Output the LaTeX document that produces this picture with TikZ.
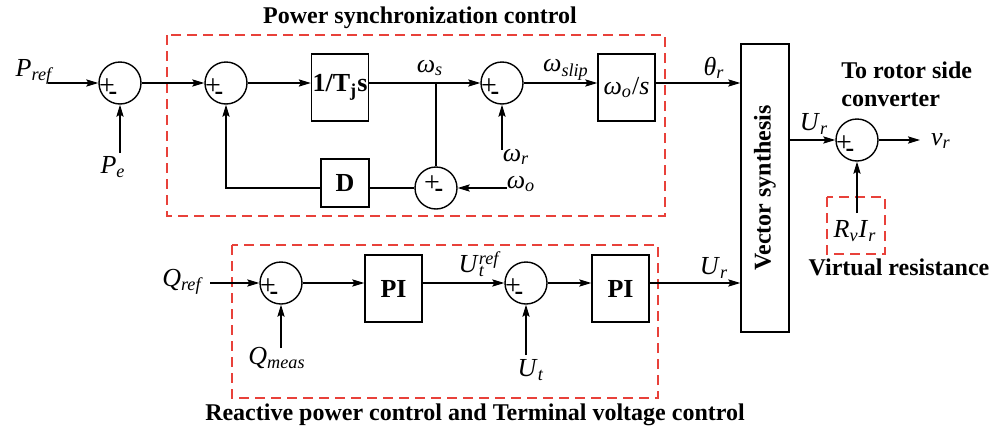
\documentclass[tikz,border=0pt]{standalone}
\usepackage{fontspec}
\setmainfont{Liberation Serif}
\usetikzlibrary{arrows.meta,positioning,calc}
\definecolor{dashred}{HTML}{E8413A}

\newcommand{\vsub}[2]{\textit{#1}\textsubscript{\textit{#2}}}

\begin{document}
\begin{tikzpicture}[
  x=0.5pt, y=-0.5pt, line width=0.7pt,
  font=\fontsize{13}{15}\selectfont,
  sum/.style={draw, circle, minimum size=21pt, inner sep=0pt},
  pm/.style={label={[xshift=-6.5pt, yshift=-2pt, inner sep=0pt, font=\fontsize{14}{14}\selectfont]center:+},
    label={[xshift=-3.5pt, yshift=-6.5pt, inner sep=0pt, font=\bfseries\fontsize{13}{13}\selectfont]center:-}},
  block/.style={draw, minimum width=28.5pt, minimum height=33.5pt, inner sep=0pt,
    font=\bfseries\fontsize{13}{15}\selectfont},
  arrow/.style={-{Stealth[length=6pt, width=3.6pt, inset=1pt]}},
  dashbox/.style={draw=dashred, dash pattern=on 5pt off 3pt, line width=0.8pt},
  ttl/.style={font=\bfseries\fontsize{12}{14}\selectfont, align=left}
]
  \useasboundingbox (0,0) rectangle (1002,434);

  % power synchronization loop
  \draw[dashbox] (167,35) rectangle (665,216);
  \node[ttl] (tpsc) at (420,18) {Power synchronization control};

  \coordinate (pin) at (48,83);
  \node (pref) at (35,72) {\vsub{P}{ref}};
  \node[sum, pm] (s1) at (120,83) {};
  \coordinate (pein) at (120,153);
  \node (pe) at (113,167) {\vsub{P}{e}};

  \node[sum, pm] (s2) at (226,83) {};
  \node[block] (tj) at (340,87.5) {1/T\textsubscript{j}s};
  \coordinate (br) at (436,83);
  \node (ws) at (430,68) {\vsub{ω}{s}};

  \node[sum, pm] (s3) at (502,83) {};
  \coordinate (wrin) at (502,150);
  \node (wr) at (516,157) {\vsub{ω}{r}};
  \node (wslip) at (566,70) {\vsub{ω}{slip}};
  \node[block, font=\fontsize{13}{15}\selectfont] (wo) at (626.5,87.5) {\vsub{ω}{o}/\textit{s}};

  \node[block, minimum width=24pt, minimum height=24pt] (d) at (345,183) {D};
  \node[sum, label={[xshift=-2pt, yshift=2pt, inner sep=0pt, font=\fontsize{14}{14}\selectfont]center:+},
    label={[xshift=1.5pt, yshift=-2.5pt, inner sep=0pt, font=\bfseries\fontsize{13}{13}\selectfont]center:-}]
    (s4) at (436,188) {};
  \coordinate (woin) at (507,188);
  \node (wol) at (521,184) {\vsub{ω}{o}};

  % vector synthesis
  \node[draw, minimum width=24pt, minimum height=144pt, inner sep=0pt] (vs) at (765,188) {};
  \node[rotate=90, font=\bfseries\fontsize{12}{14}\selectfont] (vst) at (vs) {Vector synthesis};
  \node (thr) at (714,68) {\vsub{θ}{r}};

  % reactive power and terminal voltage loop
  \draw[dashbox] (232,245) rectangle (658,398);
  \node[ttl] (trv) at (475,415) {Reactive power control and Terminal voltage control};

  \coordinate (qin) at (210,283);
  \node (qref) at (183,282) {\vsub{Q}{ref}};
  \node[sum, pm] (s5) at (281,283) {};
  \coordinate (qmin) at (281,348);
  \node (qmeas) at (277,358) {\vsub{Q}{meas}};
  \node[block] (pi1) at (393.5,288.5) {PI};
  \node (utref) at (472,264) {\textit{U}\rlap{\textsuperscript{\textit{ref}}}\textsubscript{\textit{t}}};
  \node[sum, pm] (s6) at (526,283) {};
  \coordinate (utin) at (526,355);
  \node (ut) at (531,370) {\vsub{U}{t}};
  \node[block] (pi2) at (620.5,288.5) {PI};
  \node (ur1) at (714,268) {\vsub{U}{r}};

  % output side
  \node[sum, pm] (s7) at (857,140) {};
  \node (ur2) at (814,124) {\vsub{U}{r}};
  \coordinate (vrout) at (920,140);
  \node (vr) at (941,141) {\vsub{v}{r}};
  \draw[dashbox] (827,197) rectangle (885,254);
  \coordinate (rvin) at (857,213);
  \node (rvir) at (855,231) {\vsub{R}{v}\vsub{I}{r}};
  \node[ttl, anchor=west] (trot) at (834,84) {To rotor side\\converter};
  \node[ttl] (tvr) at (899,267) {Virtual resistance};

  \draw[arrow] (pin) -- (s1);
  \draw[arrow] (pein) -- (s1);
  \draw[arrow] (s1) -- (s2);
  \draw[arrow] (s2) -- (s2 -| tj.west);
  \draw[arrow] (tj.east |- s3) -- (s3);
  \draw (br) -- (s4);
  \draw[arrow] (wrin) -- (s3);
  \draw[arrow] (s3) -- (s3 -| wo.west);
  \draw[arrow] (wo.east |- s3) -- (vs.west |- s3);
  \draw (s4) -- (s4 -| d.east);
  \draw[arrow] (d.west |- s4) -| (s2);
  \draw[arrow] (woin) -- (s4);

  \draw[arrow] (qin) -- (s5);
  \draw[arrow] (qmin) -- (s5);
  \draw[arrow] (s5) -- (s5 -| pi1.west);
  \draw[arrow] (pi1.east |- s6) -- (s6);
  \draw[arrow] (utin) -- (s6);
  \draw[arrow] (s6) -- (s6 -| pi2.west);
  \draw[arrow] (pi2.east |- s6) -- (vs.west |- s6);

  \draw[arrow] (vs.east |- s7) -- (s7);
  \draw[arrow] (s7) -- (vrout);
  \draw[arrow] (rvin) -- (s7);
\end{tikzpicture}
\end{document}
